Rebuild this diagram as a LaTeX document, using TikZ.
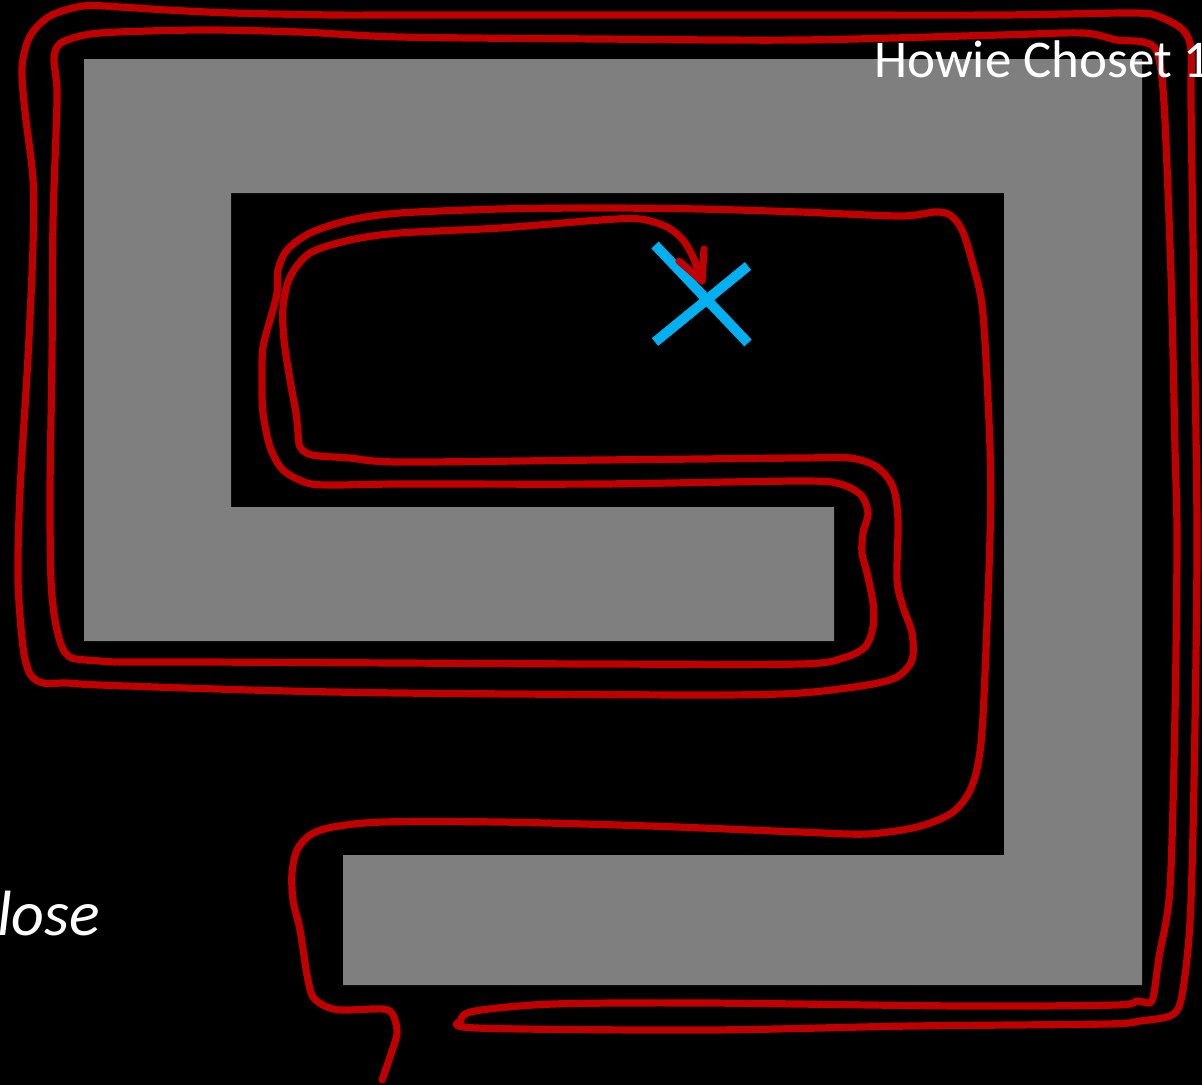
\documentclass[tikz,border=0pt]{standalone}
\usepackage{fontspec}
\setmainfont{Carlito}
\definecolor{obst}{HTML}{7F7F7F}
\definecolor{pathred}{HTML}{C00000}
\definecolor{goalblue}{HTML}{00B0F0}
\tikzset{
  obstacle/.style={fill=obst},
  robotpath/.style={draw=pathred, line width=7.2pt, line cap=round, line join=round},
  goalmark/.style={draw=goalblue, line width=10pt, line cap=butt},
  caption/.style={text=white, inner sep=0pt}
}
\begin{document}
\begin{tikzpicture}[x=1pt,y=-1pt]
\fill[black] (0,0) rectangle (1202,1085);
\useasboundingbox (0,0) rectangle (1202,1085);
% obstacle
\path[obstacle] (84,59) -- (1142,59) -- (1142,985) -- (343,985) -- (343,855) -- (1004,855) -- (1004,193) -- (231,193) -- (231,507) -- (834,507) -- (834,641) -- (84,641) -- cycle;
% goal
\draw[goalmark] (655,245) -- (748,343);
\draw[goalmark] (748,266) -- (655,342);
% path
\draw[robotpath] plot[smooth, tension=0.5] coordinates {
(382,1080) (390,1057) (397,1033) (393,1015) (383,1009) (343,1010) (327,1007) (313,997) (307,975) (300,930) (293,900) (292,873) (297,850) (310,835) (333,827) (383,822) (500,822) (650,826) (800,832) (867,834) (917,827) (950,814) (967,796) (977,769) (983,716) (990,537) (990,448) (983,314) (973,265) (962,230) (950,215) (935,212) (900,216) (800,212) (700,209) (600,208) (500,209) (400,213) (350,220) (310,233) (287,250) (278,270) (277,293) (272,313) (263,347) (262,380) (263,413) (270,447) (283,470) (307,483) (333,485) (400,484) (600,484) (800,481) (840,484) (861,495) (868,513) (863,533) (862,553) (867,573) (873,603) (873,627) (865,647) (843,658) (800,664) (600,664) (400,663) (200,662) (120,662) (100,661) (72,658) (62,647) (55,620) (51,580) (50,491) (52,357) (53,223) (56,134) (57,89) (54,60) (57,47) (67,40) (100,33) (200,30) (300,32) (400,37) (600,39) (800,40) (1000,35) (1083,33) (1117,40) (1143,42) (1157,52) (1164,103) (1171,275) (1175,448) (1177,540) (1175,714) (1170,888) (1159,957) (1154,993) (1150,1003) (1137,1001) (1116,1005) (963,1006) (707,1003) (553,1004) (475,1011) (461,1020) (477,1028) (707,1030) (911,1026) (1106,1024) (1140,1021) (1172,1015) (1182,995) (1190,922) (1194,783) (1197,540) (1194,310) (1191,103) (1191,50) (1183,30) (1160,17) (1133,13) (1000,15) (800,15) (600,15) (400,15) (333,15) (233,13) (167,10) (120,7) (83,6) (50,16) (30,36) (22,67) (25,112) (33,179) (33,246) (28,357) (20,491) (18,580) (23,647) (30,674) (43,683) (67,683) (100,685) (250,690) (400,693) (700,695) (800,693) (867,685) (897,677) (912,660) (912,633) (903,607) (897,580) (898,520) (893,487) (877,467) (850,458) (800,458) (600,460) (400,462) (350,458) (312,455) (300,447) (298,433) (296,413) (290,380) (284,340) (283,307) (290,277) (310,253) (350,240) (400,233) (500,228) (600,220) (640,219) (667,227) (683,240) (693,257) (701,279)
};
\draw[robotpath] (679,261) -- (702,281) -- (704,249);
% texts
\node[caption, anchor=base west, font=\fontsize{53}{60}\selectfont] (credit) at (874,77) {Howie Choset 1};
\node[caption, anchor=base west, font=\fontsize{64}{72}\selectfont\itshape] (lose) at (-3,935) {lose};
\end{tikzpicture}
\end{document}
